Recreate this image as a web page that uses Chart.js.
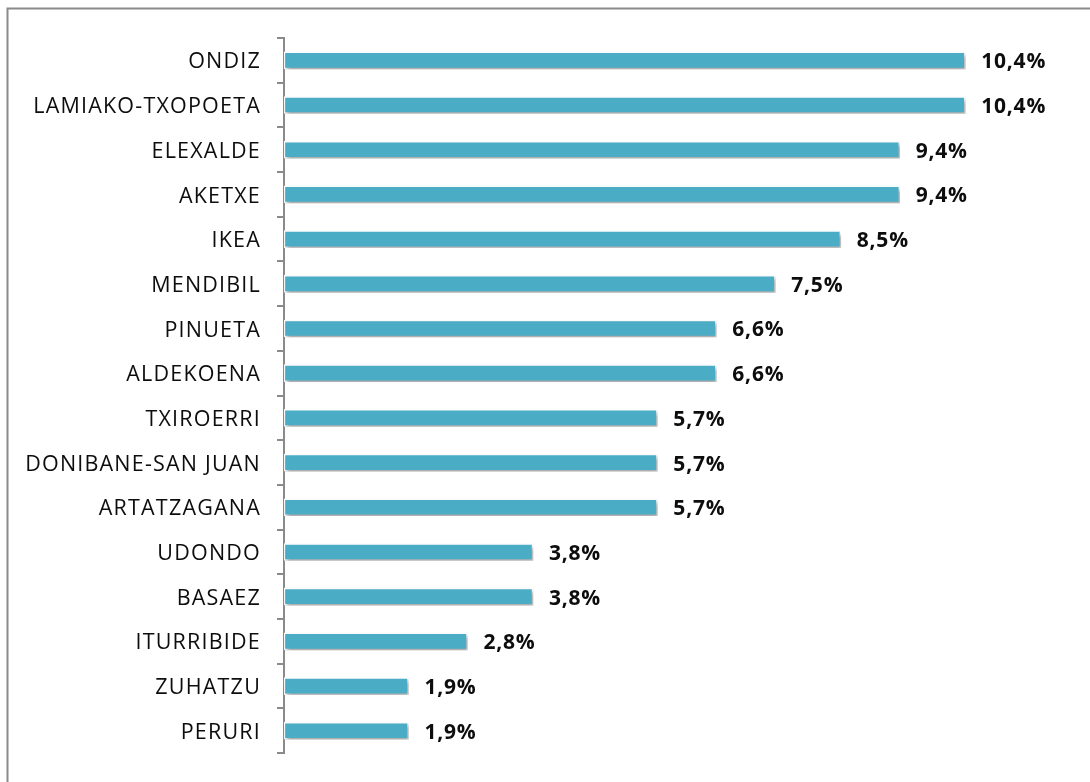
<!DOCTYPE html>
<html>
<head>
<meta charset="utf-8">
<script src="https://cdn.jsdelivr.net/npm/chart.js@4"></script>
<style>
html,body{margin:0;padding:0;background:#fff;}
#wrap{width:1090px;height:782px;position:relative;}
</style>
</head>
<body>
<div id="wrap"><canvas id="c" width="1090" height="782"></canvas></div>
<script>
const categories = ["ONDIZ","LAMIAKO-TXOPOETA","ELEXALDE","AKETXE","IKEA","MENDIBIL","PINUETA","ALDEKOENA","TXIROERRI","DONIBANE-SAN JUAN","ARTATZAGANA","UDONDO","BASAEZ","ITURRIBIDE","ZUHATZU","PERURI"];
const values = [10.4,10.4,9.4,9.4,8.5,7.5,6.6,6.6,5.7,5.7,5.7,3.8,3.8,2.8,1.9,1.9];

const framePlugin = {
  id:'frame',
  beforeDraw(chart){
    const ctx = chart.ctx;
    ctx.save();
    ctx.fillStyle='#fff';
    ctx.fillRect(0,0,chart.width,chart.height);
    ctx.strokeStyle='#8a8a8a';
    ctx.lineWidth=2;
    ctx.beginPath();
    ctx.moveTo(7.5,chart.height);
    ctx.lineTo(7.5,8.5);
    ctx.lineTo(chart.width,8.5);
    ctx.stroke();
    ctx.restore();
    if ('letterSpacing' in ctx) ctx.letterSpacing='1.2px';
  },
  afterDraw(chart){
    if ('letterSpacing' in chart.ctx) chart.ctx.letterSpacing='0px';
  }
};
const shadowPlugin = {
  id:'shadow',
  beforeDatasetDraw(chart){
    const ctx=chart.ctx;
    ctx.save();
    ctx.shadowColor='rgba(0,0,0,0.35)';
    ctx.shadowBlur=4;
    ctx.shadowOffsetX=2;
    ctx.shadowOffsetY=3;
  },
  afterDatasetDraw(chart){
    chart.ctx.restore();
  }
};
const labelPlugin = {
  id:'vlabels',
  afterDatasetsDraw(chart){
    const ctx=chart.ctx;
    const meta=chart.getDatasetMeta(0);
    ctx.save();
    if ('letterSpacing' in ctx) ctx.letterSpacing='0.8px';
    ctx.font='bold 21px "Open Sans", "Noto Sans", sans-serif';
    ctx.fillStyle='#0d0d0d';
    ctx.textAlign='left';
    ctx.textBaseline='middle';
    meta.data.forEach((bar,i)=>{
      const v=chart.data.datasets[0].data[i];
      ctx.fillText(v.toFixed(1).replace('.',',')+'%', bar.x+16, bar.y+2);
    });
    ctx.restore();
  }
};

new Chart(document.getElementById('c'),{
  type:'bar',
  data:{
    labels:categories,
    datasets:[{
      data:values,
      backgroundColor:'#4BACC6',
      borderColor:'#ffffff',
      borderWidth:1.5,
      borderSkipped:false,
      barThickness:17
    }]
  },
  plugins:[framePlugin,shadowPlugin,labelPlugin],
  options:{
    indexAxis:'y',
    responsive:false,
    animation:false,
    layout:{padding:{top:38,bottom:24,left:0,right:20}},
    plugins:{legend:{display:false},tooltip:{enabled:false}},
    scales:{
      x:{display:false,min:0,max:12},
      y:{
        afterFit(scale){scale.width=284;},
        grid:{display:true,drawOnChartArea:false,drawTicks:true,tickLength:7,offset:true,color:'#8a8a8a',lineWidth:2},
        border:{display:true,color:'#8a8a8a',width:2},
        ticks:{color:'#0d0d0d',padding:16,labelOffset:2,font:{family:'"Open Sans", "Noto Sans", sans-serif',size:21.5}}
      }
    }
  }
});
</script>
</body>
</html>
